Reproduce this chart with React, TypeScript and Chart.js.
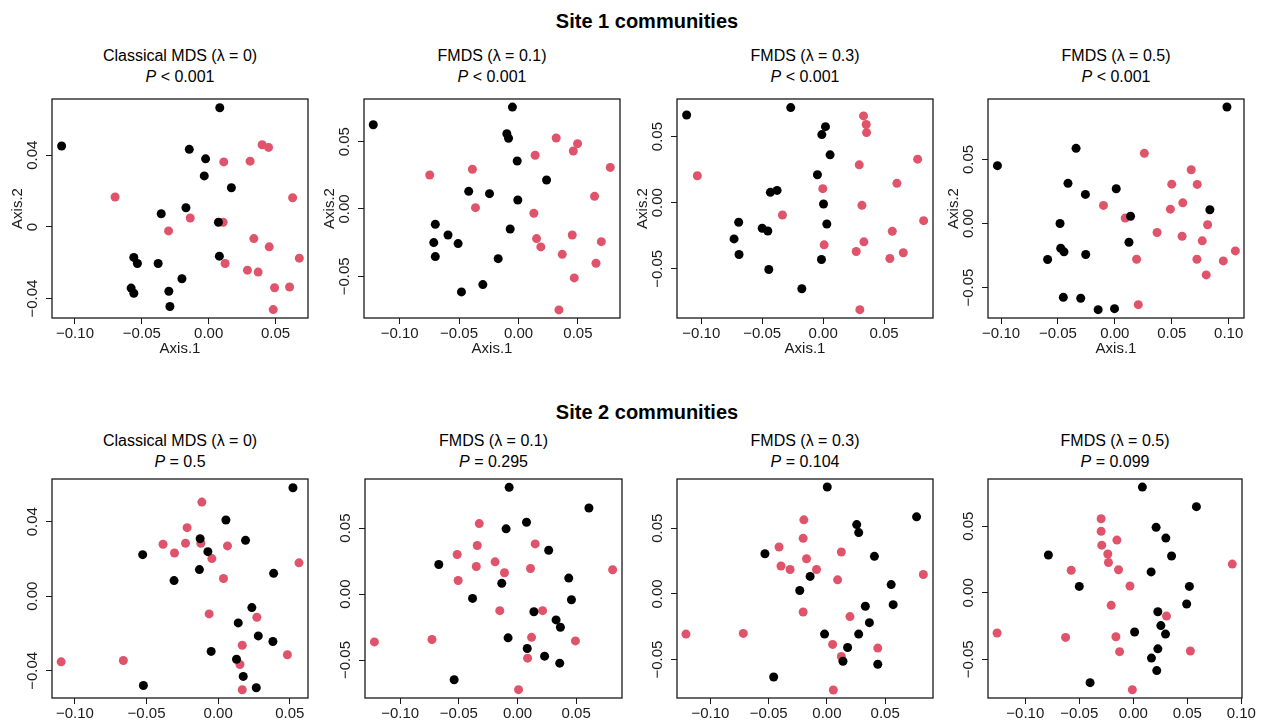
import React, { useEffect, useRef } from 'react';
import { Chart, registerables } from 'chart.js';
Chart.register(...registerables);

const FONT = '"Liberation Sans", Arial, Helvetica, sans-serif';
const RED = '#DF536B';
const INK = '#1a1a1a';

// ---------- Site 1 ----------
const s1l0Black = [[0.0083,0.0665],[-0.110,0.0452],[-0.0145,0.0433],[-0.0023,0.038],[-0.0033,0.0285],[0.017,0.0219],[-0.017,0.0107],[-0.0355,0.0074],[0.0073,0.0026],[0.008,-0.0163],[-0.056,-0.017],[-0.0533,-0.0204],[-0.0378,-0.0204],[-0.020,-0.0289],[-0.058,-0.0341],[-0.056,-0.037],[-0.0298,-0.0359],[-0.029,-0.0444]];
const s1l0Red = [[0.040,0.0459],[0.0448,0.0444],[0.0113,0.0363],[0.031,0.0367],[-0.070,0.0167],[0.0628,0.0163],[-0.0138,0.005],[0.0108,0.0026],[-0.030,-0.0022],[0.0338,-0.0065],[0.0453,-0.0111],[0.0678,-0.0174],[0.0123,-0.0204],[0.029,-0.0241],[0.037,-0.0252],[0.0493,-0.0339],[0.0605,-0.0335],[0.0483,-0.0461]];

const s1l1Black = [[-0.0051,0.0757],[-0.1222,0.0626],[-0.0098,0.0559],[-0.0084,0.0525],[-0.0011,0.0356],[0.0236,0.0215],[-0.0419,0.0131],[-0.0244,0.0114],[-0.0006,0.0067],[-0.070,-0.0114],[-0.007,-0.0149],[-0.0593,-0.0193],[-0.0713,-0.025],[-0.0508,-0.0257],[-0.070,-0.0354],[-0.0171,-0.0369],[-0.030,-0.0562],[-0.048,-0.0616]];
const s1l1Red = [[0.0317,0.0527],[0.0497,0.0485],[0.0461,0.0431],[0.014,0.0399],[0.0772,0.0309],[-0.0388,0.0295],[-0.0747,0.0252],[0.064,0.0094],[-0.0362,0.001],[0.0129,-0.0032],[0.0452,-0.0193],[0.0152,-0.022],[0.0697,-0.0243],[0.0188,-0.0282],[0.0368,-0.0337],[0.0652,-0.0403],[0.0469,-0.0512],[0.034,-0.075]];

const s1l3Black = [[-0.0266,0.0719],[-0.112,0.0663],[0.0019,0.0575],[-0.0011,0.0515],[0.0057,0.0362],[-0.0047,0.0211],[-0.0378,0.0093],[-0.0433,0.0078],[0.0003,-0.001],[-0.0693,-0.0148],[0.003,-0.0161],[-0.050,-0.0193],[-0.0454,-0.0214],[-0.0731,-0.0274],[-0.069,-0.0392],[-0.0014,-0.043],[-0.0446,-0.0505],[-0.0175,-0.0651]];
const s1l3Red = [[0.0331,0.0656],[0.0353,0.0591],[0.0356,0.053],[0.0775,0.0329],[0.0296,0.0286],[-0.1032,0.0204],[0.0605,0.0146],[-0.0003,0.0106],[0.0318,-0.002],[-0.0334,-0.0093],[0.0824,-0.0136],[0.0567,-0.0216],[0.0334,-0.0296],[0.0008,-0.0319],[0.0271,-0.0369],[0.0657,-0.0379],[0.0547,-0.0422],[0.0301,-0.0809]];

const s1l5Black = [[0.0985,0.0909],[-0.0341,0.0586],[-0.1032,0.0451],[-0.0412,0.0313],[0.0012,0.0271],[-0.0259,0.0227],[0.0835,0.0107],[0.0138,0.0057],[-0.0482,0.0],[0.0124,-0.0146],[-0.0476,-0.0193],[-0.0447,-0.0221],[-0.0256,-0.0242],[-0.0591,-0.0281],[-0.0453,-0.0576],[-0.030,-0.0583],[-0.0147,-0.0672],[-0.0003,-0.0664]];
const s1l5Red = [[0.0259,0.0547],[0.0671,0.0419],[0.050,0.0307],[0.0724,0.0305],[0.0597,0.0161],[-0.010,0.0141],[0.0488,0.0112],[0.0091,0.0042],[0.0815,-0.001],[0.0371,-0.007],[0.0591,-0.0099],[0.0768,-0.0135],[0.1059,-0.0214],[0.0191,-0.0279],[0.0721,-0.0279],[0.0953,-0.0292],[0.0803,-0.0401],[0.0206,-0.0633]];

// ---------- Site 2 ----------
const s2l0Black = [[0.0522,0.0582],[0.0054,0.0409],[-0.0126,0.0309],[0.0191,0.030],[-0.0072,0.0239],[-0.0527,0.0223],[-0.0131,0.0143],[0.0387,0.0123],[-0.0308,0.0084],[0.0235,-0.0061],[0.014,-0.0143],[0.028,-0.0213],[0.0382,-0.0243],[-0.0049,-0.0296],[0.0128,-0.0338],[0.0175,-0.043],[-0.0522,-0.0479],[0.0266,-0.0491]];
const s2l0Red = [[-0.0114,0.0505],[-0.0217,0.0368],[-0.0385,0.0279],[-0.0228,0.0284],[-0.0121,0.0284],[0.0065,0.027],[-0.0305,0.0232],[-0.0044,0.0202],[0.0037,0.0095],[-0.0063,-0.0095],[0.027,-0.0113],[0.0168,-0.0263],[0.0564,0.0179],[0.0483,-0.0314],[-0.1096,-0.0352],[-0.0662,-0.0345],[0.0152,-0.0366],[0.0168,-0.0502]];

const s2l1Black = [[-0.0071,0.0809],[0.0609,0.0652],[0.0077,0.0544],[-0.0097,0.0494],[0.0266,0.0332],[-0.0671,0.0224],[0.0437,0.0121],[-0.0134,0.0081],[-0.0383,-0.0033],[0.046,-0.0043],[0.014,-0.0134],[0.0329,-0.0196],[0.0366,-0.0252],[-0.008,-0.0332],[0.0083,-0.0413],[0.0231,-0.0471],[0.036,-0.0524],[-0.054,-0.065]];
const s2l1Red = [[-0.0326,0.0534],[0.0151,0.038],[-0.0343,0.0368],[-0.0514,0.030],[-0.0191,0.0244],[-0.0351,0.0209],[-0.0111,0.0161],[0.0111,0.0194],[0.0811,0.0184],[-0.0506,0.0103],[-0.0151,-0.0126],[0.0214,-0.0126],[0.012,-0.0328],[0.0494,-0.0355],[-0.122,-0.0363],[-0.0729,-0.0345],[0.0086,-0.0486],[0.0009,-0.0725]];

const s2l3Black = [[0.0003,0.0814],[0.077,0.0587],[0.0256,0.0528],[0.0273,0.0467],[-0.0532,0.0306],[0.0408,0.0286],[-0.0144,0.0133],[0.0552,0.0071],[-0.0233,0.0026],[0.0569,-0.0082],[0.033,-0.0094],[0.0365,-0.0219],[-0.002,-0.0306],[0.0273,-0.0306],[0.0178,-0.0408],[0.0138,-0.0513],[0.0437,-0.0536],[-0.0457,-0.0633]];
const s2l3Red = [[-0.0198,0.0564],[-0.0204,0.0423],[-0.0411,0.0357],[0.0124,0.0319],[-0.0175,0.0268],[-0.0394,0.0212],[-0.0316,0.0186],[-0.0089,0.0186],[0.0828,0.0148],[0.0092,0.0107],[-0.0204,-0.0138],[0.0198,-0.0173],[-0.121,-0.0306],[-0.0718,-0.0301],[0.0049,-0.0385],[0.0437,-0.0413],[0.0124,-0.0477],[0.0055,-0.0732]];

const s2l5Black = [[0.0084,0.0794],[0.0584,0.0647],[0.0211,0.0492],[0.0301,0.0411],[-0.0786,0.0284],[0.0354,0.0277],[0.0165,0.0157],[-0.050,0.0048],[0.0519,0.0048],[0.0494,-0.0084],[0.0227,-0.0142],[0.0255,-0.0246],[0.0012,-0.0294],[0.0298,-0.031],[0.0227,-0.0421],[0.0168,-0.049],[0.0217,-0.0584],[-0.040,-0.0675]];
const s2l5Red = [[-0.0298,0.0556],[-0.0298,0.0462],[-0.0152,0.0396],[-0.0292,0.0358],[-0.0236,0.0292],[-0.023,0.0228],[-0.0575,0.017],[-0.0137,0.0173],[0.0916,0.0216],[-0.0031,0.0051],[-0.0205,-0.0094],[0.0307,-0.0175],[-0.1261,-0.0302],[-0.0627,-0.0335],[-0.0161,-0.033],[-0.0127,-0.0442],[0.0528,-0.0437],[-0.0009,-0.0728]];

// ---------- titles, ticks ----------
const siteTitles = ['Site 1 communities', 'Site 2 communities'];
const methodTitles = ['Classical MDS (λ = 0)', 'FMDS (λ = 0.1)', 'FMDS (λ = 0.3)', 'FMDS (λ = 0.5)'];
const pSite1 = ['< 0.001', '< 0.001', '< 0.001', '< 0.001'];
const pSite2 = ['= 0.5', '= 0.295', '= 0.104', '= 0.099'];

const xTicks4 = [-0.1, -0.05, 0, 0.05];
const xLabels4 = ['−0.10', '−0.05', '0.00', '0.05'];
const xTicks5 = [-0.1, -0.05, 0, 0.05, 0.1];
const xLabels5 = ['−0.10', '−0.05', '0.00', '0.05', '0.10'];
const yTicks04 = [-0.04, 0, 0.04];
const yLabels04a = ['−0.04', '0', '0.04'];
const yLabels04b = ['−0.04', '0.00', '0.04'];
const yTicks05 = [-0.05, 0, 0.05];
const yLabels05 = ['−0.05', '0.00', '0.05'];

// axis limits [xmin, xmax, ymin, ymax]
const limits = [
  [-0.1172, 0.0743, -0.0508, 0.0714],
  [-0.130, 0.0854, -0.081, 0.0817],
  [-0.1199, 0.0901, -0.0872, 0.0784],
  [-0.1115, 0.1135, -0.0737, 0.0971],
  [-0.116, 0.0627, -0.0546, 0.0629],
  [-0.130, 0.0891, -0.0788, 0.0872],
  [-0.1287, 0.0911, -0.0793, 0.0875],
  [-0.1345, 0.1006, -0.079, 0.0855],
];

// layout: plot boxes [left, top, right, bottom] in page pixels
const boxes = [
  [52, 99, 308, 318],
  [364, 99, 620, 318],
  [677, 99, 933, 318],
  [988, 99, 1244, 318],
  [52, 479, 308, 698],
  [365, 479, 622, 698],
  [677, 479, 933, 698],
  [988, 479, 1242, 698],
];

type PanelCfg = {
  black: number[][]; red: number[][]; lim: number[]; box: number[];
  xt: number[]; xl: string[]; yt: number[]; yl: string[]; axisTitles: boolean;
};

const panels: PanelCfg[] = [
  { black: s1l0Black, red: s1l0Red, lim: limits[0], box: boxes[0], xt: xTicks4, xl: xLabels4, yt: yTicks04, yl: yLabels04a, axisTitles: true },
  { black: s1l1Black, red: s1l1Red, lim: limits[1], box: boxes[1], xt: xTicks4, xl: xLabels4, yt: yTicks05, yl: yLabels05, axisTitles: true },
  { black: s1l3Black, red: s1l3Red, lim: limits[2], box: boxes[2], xt: xTicks4, xl: xLabels4, yt: yTicks05, yl: yLabels05, axisTitles: true },
  { black: s1l5Black, red: s1l5Red, lim: limits[3], box: boxes[3], xt: xTicks5, xl: xLabels5, yt: yTicks05, yl: yLabels05, axisTitles: true },
  { black: s2l0Black, red: s2l0Red, lim: limits[4], box: boxes[4], xt: xTicks4, xl: xLabels4, yt: yTicks04, yl: yLabels04b, axisTitles: false },
  { black: s2l1Black, red: s2l1Red, lim: limits[5], box: boxes[5], xt: xTicks4, xl: xLabels4, yt: yTicks05, yl: yLabels05, axisTitles: false },
  { black: s2l3Black, red: s2l3Red, lim: limits[6], box: boxes[6], xt: xTicks4, xl: xLabels4, yt: yTicks05, yl: yLabels05, axisTitles: false },
  { black: s2l5Black, red: s2l5Red, lim: limits[7], box: boxes[7], xt: xTicks5, xl: xLabels5, yt: yTicks05, yl: yLabels05, axisTitles: false },
];

const PAD_L = 50, PAD_T = 6, PAD_R = 26, PAD_B = 42;

function ScatterPanel({ cfg }: { cfg: PanelCfg }) {
  const ref = useRef<HTMLCanvasElement>(null);
  const [L, T, R, B] = cfg.box;
  const w = R - L + PAD_L + PAD_R;
  const h = B - T + PAD_T + PAD_B;
  useEffect(() => {
    const framePlugin = {
      id: 'frameAndYLabels',
      afterDraw(chart: any) {
        const { ctx, chartArea: a, scales } = chart;
        ctx.save();
        ctx.strokeStyle = INK;
        ctx.lineWidth = 1.3;
        ctx.strokeRect(a.left, a.top, a.right - a.left, a.bottom - a.top);
        const ys = scales.y;
        ctx.font = `15px ${FONT}`;
        ctx.fillStyle = INK;
        ctx.textAlign = 'center';
        ctx.textBaseline = 'middle';
        ys.ticks.forEach((t: any, i: number) => {
          const py = ys.getPixelForValue(t.value);
          ctx.save();
          ctx.translate(a.left - 19, py);
          ctx.rotate(-Math.PI / 2);
          ctx.fillText(cfg.yl[i], 0, 0);
          ctx.restore();
        });
        ctx.restore();
      },
    };
    const chart = new Chart(ref.current as HTMLCanvasElement, {
      type: 'scatter',
      data: {
        datasets: [
          { data: cfg.black.map(([x, y]) => ({ x, y })), pointBackgroundColor: '#000000', pointBorderWidth: 0, borderWidth: 0, pointRadius: 4.5, pointHoverRadius: 4.5 },
          { data: cfg.red.map(([x, y]) => ({ x, y })), pointBackgroundColor: RED, pointBorderWidth: 0, borderWidth: 0, pointRadius: 4.5, pointHoverRadius: 4.5 },
        ],
      },
      options: {
        animation: false,
        responsive: false,
        events: [],
        layout: { padding: { left: 0, top: PAD_T, right: PAD_R, bottom: 0 } },
        plugins: { legend: { display: false }, tooltip: { enabled: false } },
        scales: {
          x: {
            type: 'linear', position: 'bottom', min: cfg.lim[0], max: cfg.lim[1],
            afterBuildTicks: (s: any) => { s.ticks = cfg.xt.map((v) => ({ value: v })); },
            afterFit: (s: any) => { s.height = PAD_B; },
            ticks: { autoSkip: false, maxRotation: 0, minRotation: 0, padding: 1, color: INK, font: { size: 15, family: FONT }, callback: (_v: any, i: number) => cfg.xl[i] },
            grid: { drawOnChartArea: false, drawTicks: true, tickLength: 6, tickColor: INK, lineWidth: 1 },
            border: { display: false },
            title: { display: cfg.axisTitles, text: 'Axis.1', color: INK, font: { size: 15, family: FONT }, padding: { top: 0, bottom: 2 } },
          },
          y: {
            type: 'linear', position: 'left', min: cfg.lim[2], max: cfg.lim[3],
            afterBuildTicks: (s: any) => { s.ticks = cfg.yt.map((v) => ({ value: v })); },
            afterFit: (s: any) => { s.width = PAD_L; },
            ticks: { display: false, autoSkip: false },
            grid: { drawOnChartArea: false, drawTicks: true, tickLength: 6, tickColor: INK, lineWidth: 1 },
            border: { display: false },
            title: { display: cfg.axisTitles, text: 'Axis.2', color: INK, font: { size: 15, family: FONT }, padding: { top: 7, bottom: 0 } },
          },
        },
      } as any,
      plugins: [framePlugin],
    });
    return () => chart.destroy();
  }, []);
  return (
    <canvas
      ref={ref}
      width={w}
      height={h}
      style={{ position: 'absolute', left: L - PAD_L, top: T - PAD_T, width: w, height: h }}
    />
  );
}

function Label({ x, y, size, bold, children }: { x: number; y: number; size: number; bold?: boolean; children: React.ReactNode }) {
  return (
    <div
      style={{
        position: 'absolute', left: x, top: y, transform: 'translate(-50%, -50%)',
        whiteSpace: 'nowrap', fontSize: size, fontWeight: bold ? 'bold' : 'normal',
        lineHeight: 1, color: '#000', fontFamily: FONT,
      }}
    >
      {children}
    </div>
  );
}

export default function App() {
  const rowTitleY = [21, 412];
  const line1Y = [56, 441];
  const line2Y = [77, 462];
  const pVals = [pSite1, pSite2];
  return (
    <div style={{ position: 'absolute', left: 0, top: 0, width: 1263, height: 725, background: '#fff', overflow: 'hidden', fontFamily: FONT }}>
      {[0, 1].map((r) => (
        <Label key={'s' + r} x={647} y={rowTitleY[r]} size={20} bold>{siteTitles[r]}</Label>
      ))}
      {panels.map((p, i) => {
        const r = i < 4 ? 0 : 1;
        const c = i % 4;
        const cx = (p.box[0] + p.box[2]) / 2;
        return (
          <React.Fragment key={i}>
            <Label x={cx} y={line1Y[r]} size={16}>{methodTitles[c]}</Label>
            <Label x={cx} y={line2Y[r]} size={16}><i>P</i> {pVals[r][c]}</Label>
            <ScatterPanel cfg={p} />
          </React.Fragment>
        );
      })}
    </div>
  );
}
